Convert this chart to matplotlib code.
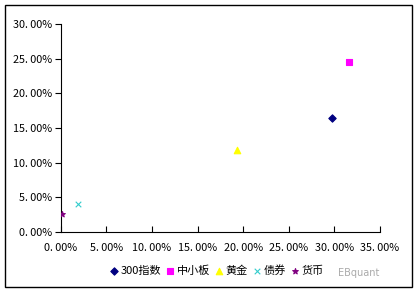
import numpy as np
import matplotlib.pyplot as plt
from matplotlib.patches import Rectangle
from matplotlib.ticker import FuncFormatter

plt.rcParams['font.family'] = ['Noto Sans CJK SC', 'DejaVu Sans']

names = ['300指数', '中小板', '黄金', '债券', '货币']
risk = [29.7, 31.6, 19.3, 1.9, 0.1]
returns = [16.5, 24.5, 11.8, 4.0, 2.6]
markers = ['D', 's', '^', 'x', '*']
colors = ['#000080', '#ff00ff', '#ffff00', '#33cccc', '#800080']
sizes = [14, 22, 22, 16, 18]

fig = plt.figure(figsize=(4.17, 2.92), dpi=100)
fig.patches.append(Rectangle((5 / 417, 5 / 292), 407 / 417, 282 / 292,
                             transform=fig.transFigure, fill=False,
                             edgecolor='black', linewidth=1))
ax = fig.add_axes([0.146, 0.205, 0.765, 0.713])

for i in range(len(names)):
    ax.scatter(risk[i], returns[i], marker=markers[i], color=colors[i],
               s=sizes[i], linewidths=0.8, label=names[i], zorder=3)

ax.set_xlim(0, 35)
ax.set_ylim(0, 30)
ax.set_xticks(np.arange(0, 36, 5))
ax.set_yticks(np.arange(0, 31, 5))
fmt = FuncFormatter(lambda v, p: ('%.2f%%' % v).replace('.', '. '))
ax.xaxis.set_major_formatter(fmt)
ax.yaxis.set_major_formatter(fmt)
ax.spines['top'].set_visible(False)
ax.spines['right'].set_visible(False)
ax.tick_params(axis='x', direction='in', length=4, labelsize=7.8, pad=8)
ax.tick_params(axis='y', direction='out', length=4, labelsize=7.8, pad=2)

fig.legend(loc='lower center', bbox_to_anchor=(0.52, 0.02), ncol=5,
           frameon=False, fontsize=8, handlelength=0.7, handletextpad=0.25,
           columnspacing=0.45)

fig.text(0.81, 0.055, 'EBquant', color='#aaaaaa', fontsize=7,
         family=['DejaVu Sans'])

fig.savefig('out.png', dpi=100)
